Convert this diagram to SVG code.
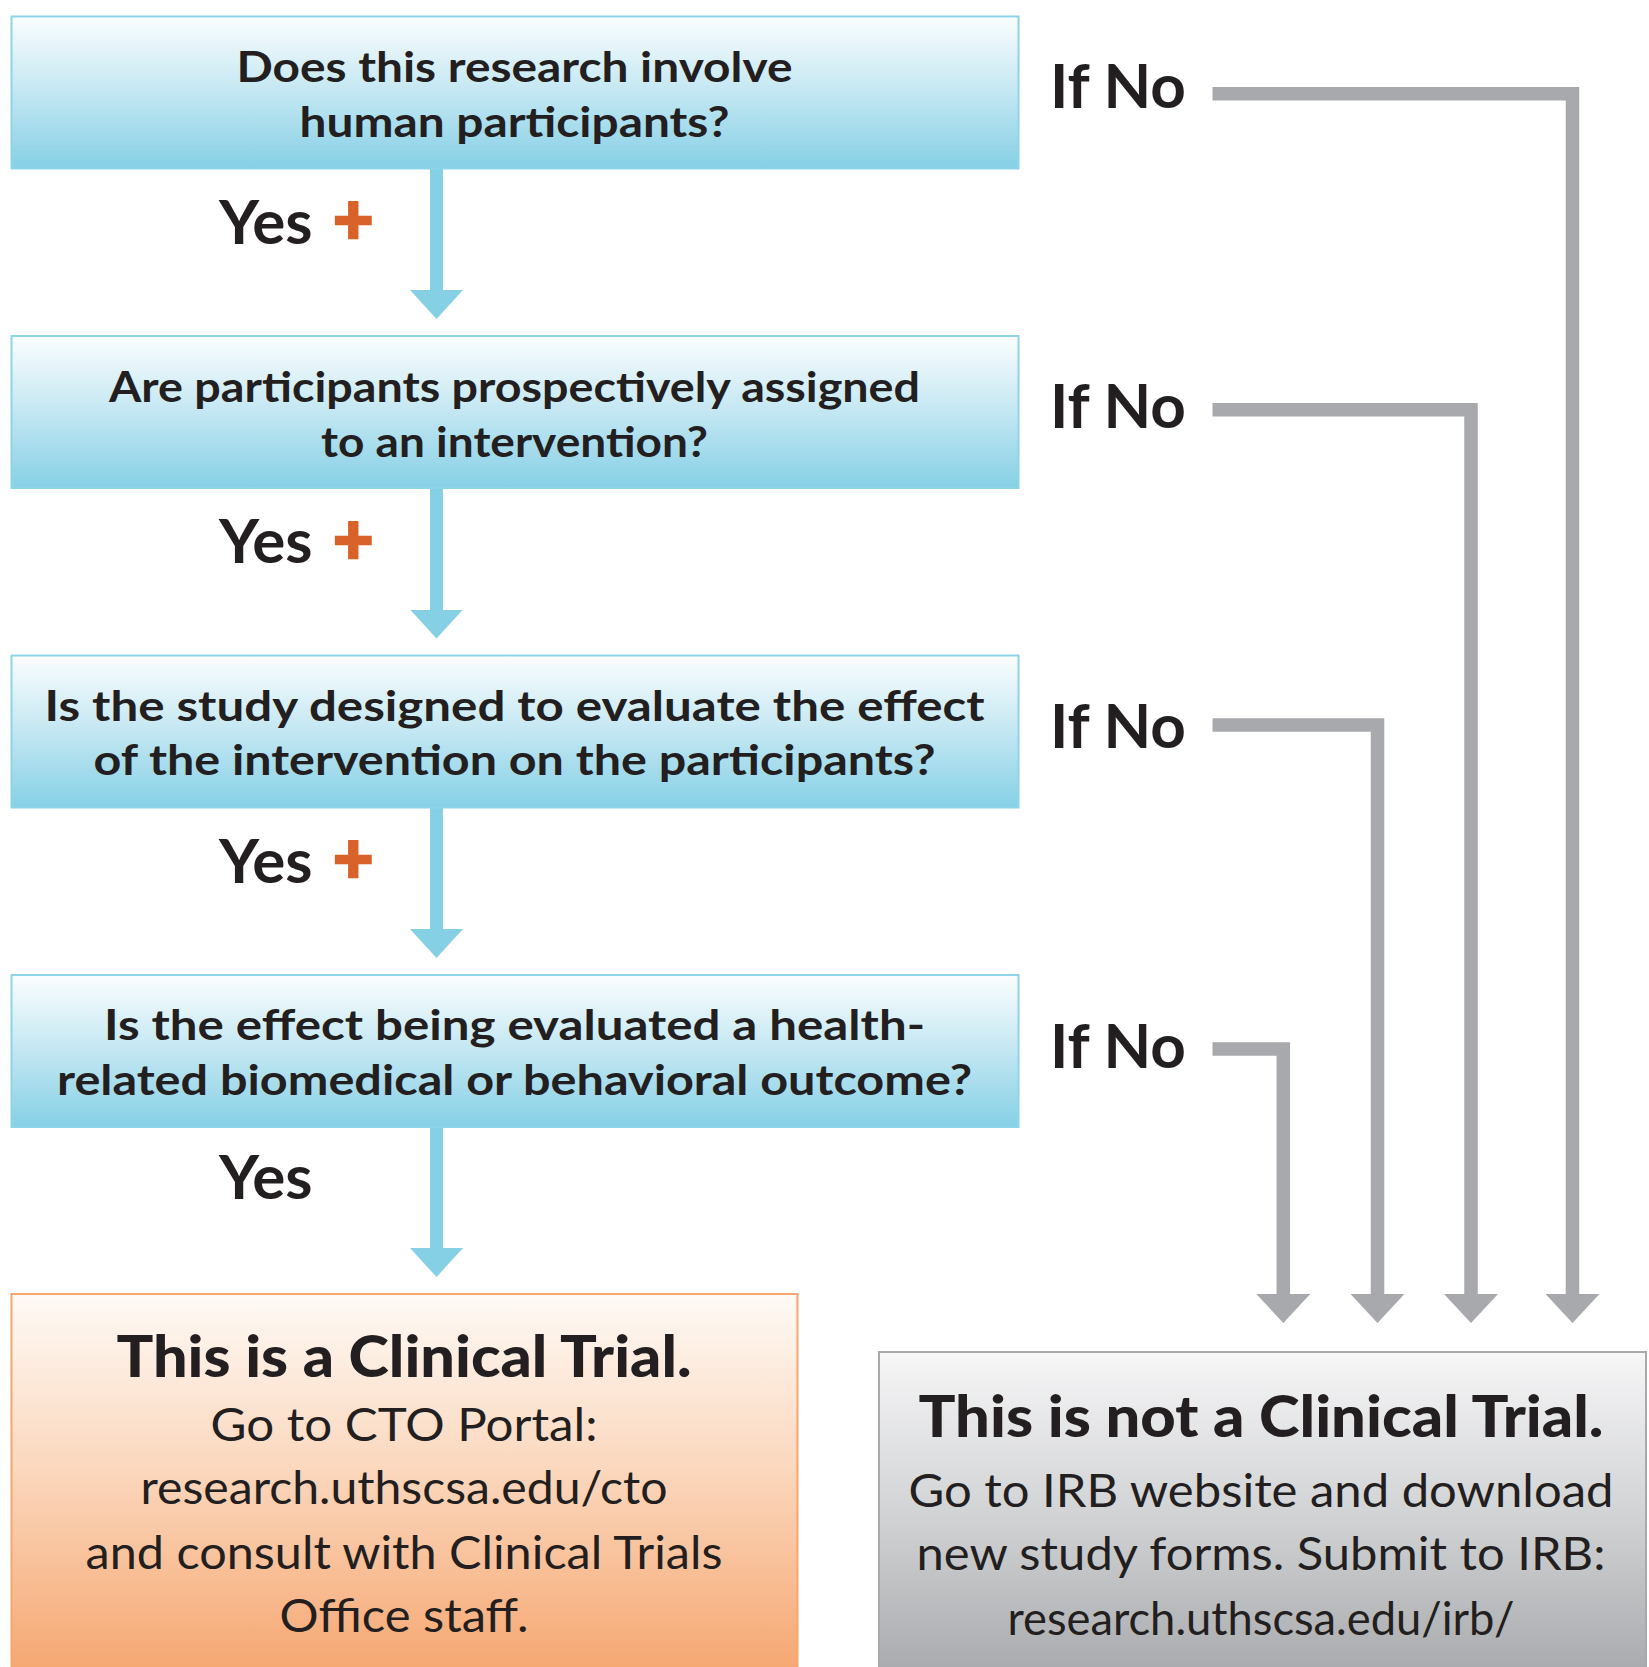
<svg xmlns="http://www.w3.org/2000/svg" width="1649" height="1667" viewBox="0 0 1649 1667">
<style>
  .q { fill: url(#gBlue); stroke: #8dd4e9; stroke-width: 2; }
  .qt { font-family: Lato, "Open Sans", sans-serif; font-weight: 700; font-size: 42px; fill: #231f20; text-anchor: middle; }
  .lbl { font-family: Lato, "Open Sans", sans-serif; font-weight: 700; font-size: 62px; fill: #231f20; }
  .plus { font-family: Lato, "Open Sans", sans-serif; font-weight: 900; font-size: 70px; fill: #d9622b; stroke: #d9622b; stroke-width: 2.5; }
  .ttl { font-family: Lato, "Open Sans", sans-serif; font-weight: 900; font-size: 58px; fill: #231f20; text-anchor: middle; }
  .body { font-family: Lato, "Open Sans", sans-serif; font-weight: 400; font-size: 46px; fill: #231f20; text-anchor: middle; }
  .blue { fill: none; stroke: #86d0e6; stroke-width: 13; marker-end: url(#mBlue); }
  .gray { fill: none; stroke: #a7a9ac; stroke-width: 13.5; stroke-linejoin: miter; marker-end: url(#mGray); }
</style>
<defs>
  <linearGradient id="gBlue" x1="0" y1="0" x2="0" y2="1">
    <stop offset="0" stop-color="#fbfdfe"/>
    <stop offset="0.5" stop-color="#c3e7f2"/>
    <stop offset="1" stop-color="#86d0e6"/>
  </linearGradient>
  <linearGradient id="gOrange" x1="0" y1="0" x2="0" y2="1">
    <stop offset="0" stop-color="#fefaf6"/>
    <stop offset="0.45" stop-color="#fbd7bd"/>
    <stop offset="1" stop-color="#f5a46c"/>
  </linearGradient>
  <linearGradient id="gGray" x1="0" y1="0" x2="0" y2="1">
    <stop offset="0" stop-color="#f6f6f7"/>
    <stop offset="0.5" stop-color="#d1d2d4"/>
    <stop offset="1" stop-color="#a6a8ab"/>
  </linearGradient>
  <marker id="mBlue" markerUnits="userSpaceOnUse" markerWidth="30" markerHeight="53" viewBox="0 0 30 53" refX="1" refY="26.5" orient="auto">
    <path d="M0,0 L29,26.5 L0,53 Z" fill="#86d0e6"/>
  </marker>
  <marker id="mGray" markerUnits="userSpaceOnUse" markerWidth="30" markerHeight="54" viewBox="0 0 30 54" refX="1" refY="27" orient="auto">
    <path d="M0,0 L29,27 L0,54 Z" fill="#a7a9ac"/>
  </marker>
</defs>
<rect width="1649" height="1667" fill="#ffffff"/>

<g id="connectors">
  <path class="blue" d="M436.5,169 V291"/>
  <path class="blue" d="M436.5,488.5 V610.5"/>
  <path class="blue" d="M436.5,808 V930"/>
  <path class="blue" d="M436.5,1127.5 V1249"/>
  <path class="gray" d="M1212.5,93.7 H1572.5 V1295"/>
  <path class="gray" d="M1212.5,409.7 H1471 V1295"/>
  <path class="gray" d="M1212.5,725 H1377.5 V1295"/>
  <path class="gray" d="M1212.5,1049 H1283.3 V1295"/>
</g>

<g id="q1">
  <rect class="q" x="11.5" y="16.5" width="1007" height="152"/>
  <text class="qt" x="514.5" y="82" textLength="556" lengthAdjust="spacingAndGlyphs">Does this research involve</text>
  <text class="qt" x="514.5" y="137" textLength="430" lengthAdjust="spacingAndGlyphs">human participants?</text>
</g>
<g id="q2">
  <rect class="q" x="11.5" y="336" width="1007" height="152"/>
  <text class="qt" x="514.5" y="401.5" textLength="811" lengthAdjust="spacingAndGlyphs">Are participants prospectively assigned</text>
  <text class="qt" x="514.5" y="456.5" textLength="387" lengthAdjust="spacingAndGlyphs">to an intervention?</text>
</g>
<g id="q3">
  <rect class="q" x="11.5" y="655.5" width="1007" height="152"/>
  <text class="qt" x="514.5" y="721" textLength="940" lengthAdjust="spacingAndGlyphs">Is the study designed to evaluate the effect</text>
  <text class="qt" x="514.5" y="775" textLength="842" lengthAdjust="spacingAndGlyphs">of the intervention on the participants?</text>
</g>
<g id="q4">
  <rect class="q" x="11.5" y="975" width="1007" height="152"/>
  <text class="qt" x="514.5" y="1040" textLength="821" lengthAdjust="spacingAndGlyphs">Is the effect being evaluated a health-</text>
  <text class="qt" x="514.5" y="1095" textLength="915" lengthAdjust="spacingAndGlyphs">related biomedical or behavioral outcome?</text>
</g>

<g id="labels-yes">
  <text class="lbl" x="219" y="243.5">Yes</text>
  <text class="plus" x="333" y="244.2">+</text>
  <text class="lbl" x="219" y="563">Yes</text>
  <text class="plus" x="333" y="563.7">+</text>
  <text class="lbl" x="219" y="882.5">Yes</text>
  <text class="plus" x="333" y="883.2">+</text>
  <text class="lbl" x="219" y="1198.5">Yes</text>
</g>

<g id="labels-no">
  <text class="lbl" x="1050" y="108.3">If No</text>
  <text class="lbl" x="1050" y="428.3">If No</text>
  <text class="lbl" x="1050" y="748.3">If No</text>
  <text class="lbl" x="1050" y="1068.3">If No</text>
</g>

<g id="clinical-trial">
  <rect x="11.5" y="1294" width="786" height="390" fill="url(#gOrange)" stroke="#f6a66e" stroke-width="2"/>
  <text class="ttl" x="404" y="1376.7" textLength="575" lengthAdjust="spacingAndGlyphs">This is a Clinical Trial.</text>
  <text class="body" x="404" y="1440.7" textLength="387" lengthAdjust="spacingAndGlyphs">Go to CTO Portal:</text>
  <text class="body" x="404" y="1504" textLength="527" lengthAdjust="spacingAndGlyphs">research.uthscsa.edu/cto</text>
  <text class="body" x="404" y="1569" textLength="637" lengthAdjust="spacingAndGlyphs">and consult with Clinical Trials</text>
  <text class="body" x="404" y="1632.4" textLength="249" lengthAdjust="spacingAndGlyphs">Office staff.</text>
</g>

<g id="not-clinical-trial">
  <rect x="879" y="1352" width="767" height="330" fill="url(#gGray)" stroke="#a7a9ac" stroke-width="2"/>
  <text class="ttl" x="1261" y="1436.7" textLength="685" lengthAdjust="spacingAndGlyphs">This is not a Clinical Trial.</text>
  <text class="body" x="1261" y="1506.7" textLength="705" lengthAdjust="spacingAndGlyphs">Go to IRB website and download</text>
  <text class="body" x="1261" y="1570" textLength="689" lengthAdjust="spacingAndGlyphs">new study forms. Submit to IRB:</text>
  <text class="body" x="1261" y="1635" textLength="507" lengthAdjust="spacingAndGlyphs">research.uthscsa.edu/irb/</text>
</g>
</svg>
